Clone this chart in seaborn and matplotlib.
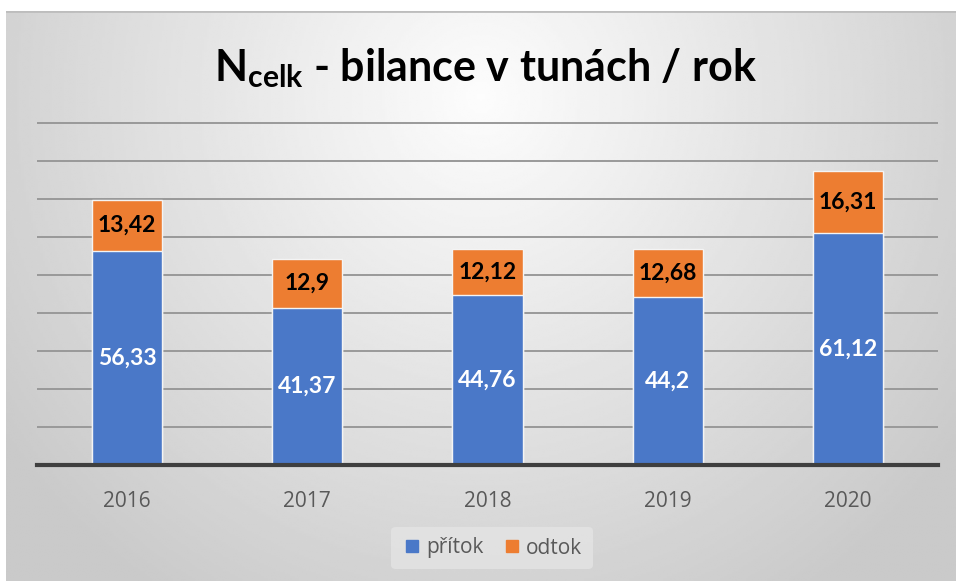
import numpy as np
import pandas as pd
import seaborn as sns
import matplotlib as mpl
from matplotlib import pyplot as plt
from matplotlib.lines import Line2D

# data
years = ["2016", "2017", "2018", "2019", "2020"]
pritok = [56.33, 41.37, 44.76, 44.2, 61.12]
odtok = [13.42, 12.9, 12.12, 12.68, 16.31]

blue = "#4A78C8"
orange = "#ED7D31"

sns.set_style("white")
plt.rcParams["font.family"] = ["Lato", "DejaVu Sans"]
plt.rcParams["mathtext.fontset"] = "custom"
plt.rcParams["mathtext.rm"] = "Lato"
plt.rcParams["mathtext.bf"] = "Lato:bold"

df = pd.DataFrame({"rok": years, "pritok": pritok, "odtok": odtok})
df["celkem"] = df["pritok"] + df["odtok"]

fig = plt.figure(figsize=(9.56, 5.81), dpi=100)

# gradient background of the chart frame
bg = fig.add_axes([6 / 956, 0, 950 / 956, 570 / 581], zorder=-10)
xx, yy = np.meshgrid(np.linspace(0, 1, 400), np.linspace(0, 1, 300))
r = np.sqrt(((xx - 0.5) / 0.62) ** 2 + ((yy - 0.85) / 1.05) ** 2)
val = 0.99 - 0.2 * np.clip(r, 0, 1)
bg.imshow(val, cmap="gray", vmin=0, vmax=1, aspect="auto", origin="lower",
          extent=(0, 1, 0, 1), interpolation="bilinear")
bg.plot([0, 1], [1, 1], color="#bdbdbd", lw=2, transform=bg.transAxes)
bg.set_axis_off()

ax = fig.add_axes([37 / 956, 1 - 465 / 581, 901 / 956, (465 - 122) / 581])
ax.patch.set_alpha(0)

sns.barplot(data=df, x="rok", y="celkem", color=orange, width=0.39,
            saturation=1, edgecolor="#f4f4f4", linewidth=1, ax=ax, zorder=3)
sns.barplot(data=df, x="rok", y="pritok", color=blue, width=0.39,
            saturation=1, edgecolor="#f4f4f4", linewidth=1, ax=ax, zorder=4)

ax.set_ylim(0, 90.3)
ax.set_xlim(-0.5, 4.5)
ax.set_yticks(np.arange(10, 91, 10))
ax.yaxis.grid(True, color="#999999", linewidth=1.4)
ax.set_axisbelow(True)
ax.tick_params(axis="y", left=False, labelleft=False)
ax.tick_params(axis="x", bottom=False, labelsize=15, labelcolor="#595959", pad=15)
for lab in ax.get_xticklabels():
    lab.set_fontfamily(["Open Sans", "DejaVu Sans"])
for s in ["top", "right", "left"]:
    ax.spines[s].set_visible(False)
ax.spines["bottom"].set_color("#3f3f3f")
ax.spines["bottom"].set_linewidth(3)
ax.spines["bottom"].set_zorder(6)
ax.set_xlabel("")
ax.set_ylabel("")

def fmt(v):
    return ("%g" % v).replace(".", ",")

for i, row in df.iterrows():
    ax.text(i, row["pritok"] / 2, fmt(row["pritok"]), ha="center", va="center",
            color="white", fontsize=16.5, fontweight="bold", zorder=7)
    ax.text(i, row["pritok"] + row["odtok"] / 2, fmt(row["odtok"]), ha="center",
            va="center", color="black", fontsize=16.5, fontweight="bold", zorder=7)

fig.text(486 / 956, 1 - 68 / 581, r"$\mathbf{N}_{\mathbf{celk}}$ - bilance v tunách / rok",
         ha="center", va="center", fontsize=31, fontweight="bold", color="black")

handles = [
    Line2D([], [], marker="s", linestyle="", markersize=9, color=blue),
    Line2D([], [], marker="s", linestyle="", markersize=9, color=orange),
]
leg = fig.legend(handles, ["přítok", "odtok"], loc="center",
                 bbox_to_anchor=(492 / 956, 1 - 548 / 581), ncol=2,
                 frameon=True, fontsize=15, handletextpad=0.15, columnspacing=0.9,
                 borderpad=0.5, handlelength=1.0)
leg.get_frame().set_facecolor("#e6e6e6")
leg.get_frame().set_edgecolor("none")
leg.get_frame().set_alpha(0.7)
for t in leg.get_texts():
    t.set_color("#595959")
    t.set_fontfamily(["Open Sans", "DejaVu Sans"])

fig.savefig("out.png", dpi=100, facecolor="white")
